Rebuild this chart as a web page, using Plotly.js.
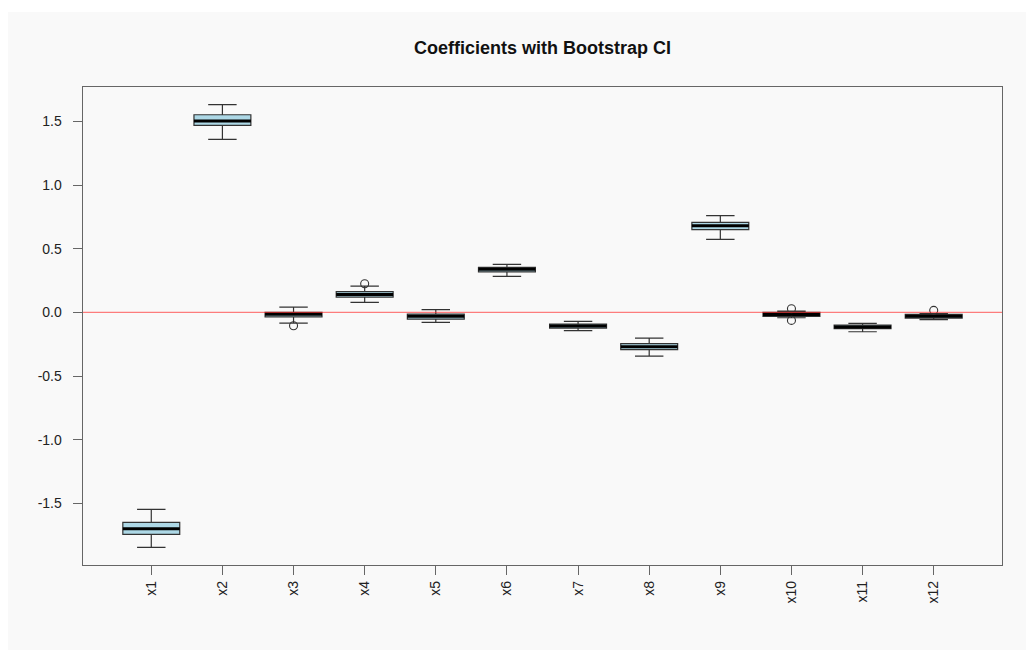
<!DOCTYPE html>
<html>
<head>
<meta charset="utf-8">
<script src="https://cdn.plot.ly/plotly-3.0.1.min.js"></script>
<style>html,body{margin:0;padding:0;background:#fff;}#chart{width:1026px;height:650px;}</style>
</head>
<body>
<div id="chart"></div>
<script>
// Category labels and box statistics
var labels = ['x1','x2','x3','x4','x5','x6','x7','x8','x9','x10','x11','x12'];
var q1     = [-1.744, 1.469, -0.035, 0.120, -0.053, 0.318, -0.123, -0.293, 0.650, -0.031, -0.128, -0.045];
var med    = [-1.700, 1.503, -0.015, 0.141, -0.031, 0.338, -0.107, -0.270, 0.681, -0.016, -0.115, -0.031];
var q3     = [-1.650, 1.553,  0.000, 0.163, -0.013, 0.353, -0.092, -0.246, 0.707,  0.000, -0.100, -0.016];
var lowW   = [-1.846, 1.359, -0.084, 0.079, -0.079, 0.283, -0.144, -0.343, 0.573, -0.042, -0.152, -0.057];
var highW  = [-1.548, 1.632,  0.042, 0.207,  0.021, 0.377, -0.071, -0.202, 0.760,  0.010, -0.086, -0.010];
// Outliers
var outLabel = ['x3', 'x4', 'x10', 'x10', 'x12'];
var outValue = [-0.105, 0.225, 0.029, -0.063, 0.016];
// Y tick labels
var yTickVals = [-1.5, -1.0, -0.5, 0.0, 0.5, 1.0, 1.5];
var yTickText = ['-1.5', '-1.0', '-0.5', '0.0', '0.5', '1.0', '1.5'];

var xPos = labels.map(function(_, i){ return i + 1; });
var outX = outLabel.map(function(l){ return labels.indexOf(l) + 1; });

var boxes = {
  type: 'box',
  x: xPos,
  q1: q1, median: med, q3: q3,
  lowerfence: lowW, upperfence: highW,
  width: 0.8,
  whiskerwidth: 0.5,
  fillcolor: '#add8e6',
  line: {color: '#333333', width: 1.2},
  boxpoints: false,
  hoverinfo: 'skip',
  showlegend: false
};
var medians = {
  type: 'box',
  x: xPos,
  q1: med, median: med, q3: med,
  lowerfence: med, upperfence: med,
  width: 0.8,
  whiskerwidth: 0,
  fillcolor: 'rgba(0,0,0,0)',
  line: {color: '#000000', width: 3},
  boxpoints: false,
  hoverinfo: 'skip',
  showlegend: false
};
var outliers = {
  type: 'scatter',
  mode: 'markers',
  x: outX,
  y: outValue,
  marker: {symbol: 'circle-open', size: 8, color: '#333', line: {width: 1.1, color: '#333'}},
  hoverinfo: 'skip',
  showlegend: false
};

var layout = {
  width: 1026, height: 650,
  margin: {l: 83, r: 24, t: 87, b: 85, pad: 0},
  paper_bgcolor: '#ffffff',
  plot_bgcolor: '#f9f9f9',
  boxmode: 'overlay',
  font: {family: 'Liberation Sans, Arial, Helvetica, sans-serif', color: '#222', size: 14},
  title: {
    text: '<b>Coefficients with Bootstrap CI</b>',
    font: {size: 18, color: '#111'},
    x: 0.5, xref: 'paper', xanchor: 'center',
    y: 1 - 48/650, yref: 'container', yanchor: 'middle'
  },
  xaxis: {
    range: [0.04, 12.96],
    tickvals: xPos, ticktext: labels,
    tickangle: -90,
    ticks: 'outside', ticklen: 9, tickcolor: '#666', tickwidth: 1,
    showline: true, linecolor: '#666', linewidth: 1.4, mirror: true,
    showgrid: false, zeroline: false,
    ticklabelstandoff: 0,
    tickfont: {size: 14, color: '#222'}
  },
  yaxis: {
    range: [-1.985, 1.771],
    tickvals: yTickVals, ticktext: yTickText,
    ticks: 'outside', ticklen: 9, tickcolor: '#666', tickwidth: 1,
    showline: true, linecolor: '#666', linewidth: 1.4, mirror: true,
    showgrid: false, zeroline: false,
    ticklabelstandoff: 8,
    tickfont: {size: 14, color: '#222'}
  },
  shapes: [
    {type: 'rect', xref: 'paper', yref: 'paper', layer: 'below',
     x0: (8-83)/919, x1: (1026-83)/919, y0: (565-650)/478, y1: (565-12)/478,
     fillcolor: '#f9f9f9', line: {width: 0}},
    {type: 'line', xref: 'paper', yref: 'y', layer: 'above',
     x0: 0, x1: 1, y0: 0, y1: 0,
     line: {color: 'rgba(255,40,40,0.6)', width: 1.3}}
  ]
};

Plotly.newPlot('chart', [boxes, medians, outliers], layout, {staticPlot: true, displayModeBar: false});
</script>
</body>
</html>
